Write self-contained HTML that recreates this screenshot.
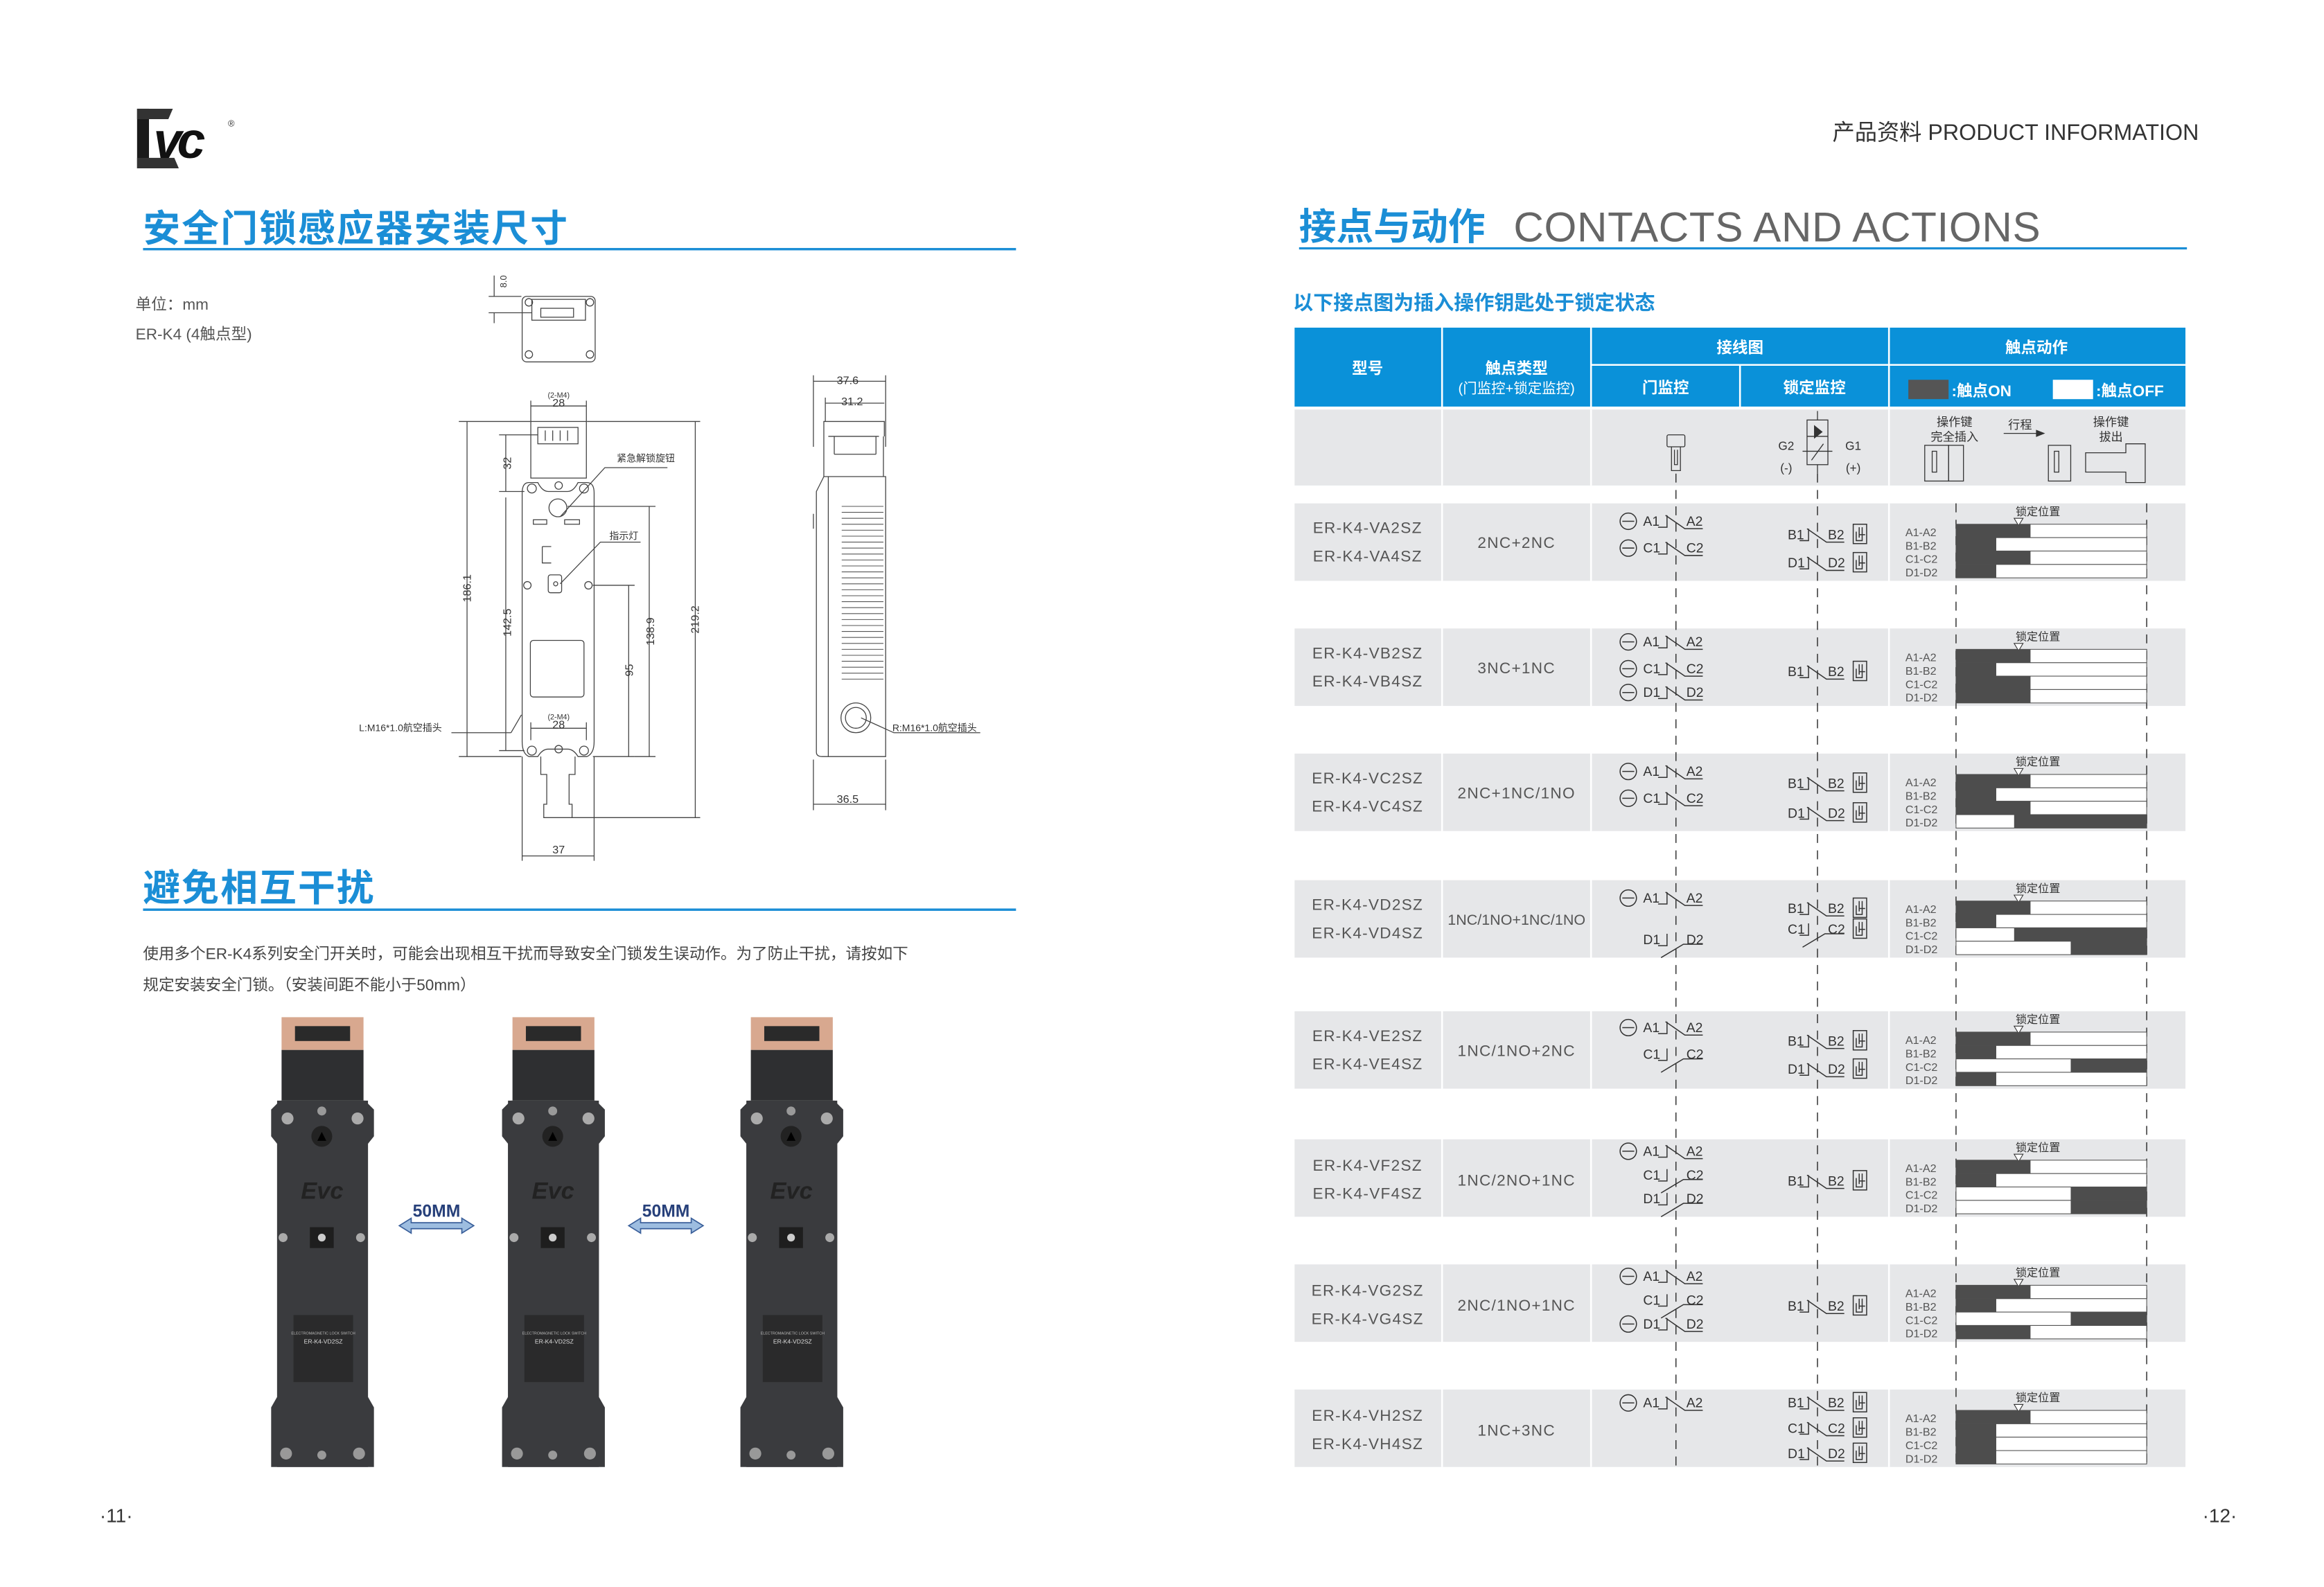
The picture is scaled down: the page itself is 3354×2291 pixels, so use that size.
<!DOCTYPE html>
<html><head><meta charset="utf-8"><style>
html,body{margin:0;padding:0;background:#fff;}
svg{display:block;}
text{font-family:"Liberation Sans","Noto Sans CJK SC",sans-serif;}
</style></head><body>
<svg width="3354" height="2291" viewBox="0 0 1560 1065.6" xmlns="http://www.w3.org/2000/svg">
<defs>
<g id="nc" fill="none" stroke="#333" stroke-width="0.7"><path d="M-12,4H-6V-4M-7,-4L6,5H18"/></g>
<g id="no" fill="none" stroke="#333" stroke-width="0.7"><path d="M-12,4H-6V-4M-10,12L5,3H18"/></g>
<g id="bx" fill="none" stroke="#333" stroke-width="0.7"><rect x="0" y="-7" width="9" height="13"/><path d="M2,-2V4H6V-5M4,-5V2M4,0H8"/></g>
<g id="cir" fill="none" stroke="#333" stroke-width="0.7"><circle r="5.5"/><path d="M-4,0H4"/></g>
<g id="dev">
 <rect x="7" y="0" width="55" height="22" fill="#d8a88f"/>
 <rect x="16" y="6" width="37" height="10" fill="#2a2a2a"/>
 <rect x="7" y="22" width="55" height="34" fill="#2e2f31"/>
 <path d="M4,56 H65 V302 H4 Z" fill="#37383b"/>
 <path d="M0,62 L6,56 H63 L69,62 V80 L65,85 V255 L69,262 V302 H0 V262 L4,255 V85 L0,80Z" fill="#3a3b3e"/>
 <circle cx="11" cy="68" r="4" fill="#aaa"/><circle cx="58" cy="68" r="4" fill="#aaa"/>
 <circle cx="34" cy="63" r="3" fill="#999"/>
 <circle cx="34" cy="80" r="7" fill="#222"/><path d="M31,83 L34,77 L37,83Z" fill="#000"/>
 <text x="20" y="122" font-size="16" font-weight="bold" fill="#222" font-style="italic">Evc</text>
 <rect x="26" y="141" width="16" height="14" fill="#1e1e1e"/><circle cx="34" cy="148" r="2.6" fill="#ccc"/>
 <circle cx="8" cy="148" r="3" fill="#aaa"/><circle cx="60" cy="148" r="3" fill="#aaa"/>
 <rect x="15" y="200" width="40" height="45" fill="#2a2a2b"/>
 <text x="35" y="213" font-size="2.5" fill="#bbb" text-anchor="middle">ELECTROMAGNETIC LOCK SWITCH</text>
 <text x="35" y="219" font-size="4" fill="#ddd" text-anchor="middle">ER-K4-VD2SZ</text>
 <circle cx="10" cy="293" r="4" fill="#999"/><circle cx="59" cy="293" r="4" fill="#999"/><circle cx="34" cy="294" r="3" fill="#999"/>
</g>
</defs>

<!-- logo -->
<g>
 <rect x="92" y="73" width="8" height="40" fill="#1a1a1a"/>
 <path d="M92,73 H116 L113,80 H92Z" fill="#333"/>
 <path d="M92,106 H117 L120,113 H92Z" fill="#333"/>
 <text x="103" y="106" font-size="34" font-weight="bold" font-style="italic" fill="#111" letter-spacing="-3">vc</text>
 <text x="153" y="85" font-size="6" fill="#333">®</text>
</g>
<text x="1476" y="94" font-size="15" fill="#333" text-anchor="end">产品资料 PRODUCT INFORMATION</text>

<!-- left titles -->
<text x="96" y="162" font-size="25" font-weight="bold" fill="#1b8ed6" letter-spacing="1">安全门锁感应器安装尺寸</text>
<rect x="96" y="166.5" width="586" height="1.6" fill="#1b8ed6"/>
<text x="91" y="208" font-size="10.5" fill="#555">单位：mm</text>
<text x="91" y="228" font-size="10.5" fill="#555">ER-K4 (4触点型)</text>

<!-- technical drawing -->
<g fill="none" stroke="#444" stroke-width="0.6">
 <rect x="350.5" y="199" width="49" height="44" rx="3"/>
 <rect x="357" y="201" width="36" height="14"/>
 <rect x="363" y="207" width="22" height="6"/>
 <circle cx="355" cy="203" r="2.5"/><circle cx="396" cy="203" r="2.5"/><circle cx="355" cy="238" r="2.5"/><circle cx="396" cy="238" r="2.5"/>
 <path d="M331.7,185V199M331.7,210V217M328,199H350M328,210H357"/>
 <rect x="356.3" y="283" width="37.3" height="38"/>
 <rect x="361" y="287" width="27" height="11"/>
 <path d="M366,289V296M371,289V296M376,289V296M381,289V296"/>
 <path d="M350.5,331 Q350.5,324 355,324 H361 Q364,330 368,330 H381 Q385,330 388,324 H394 Q398.8,324 398.8,331 V498 Q398.8,506 394,508 H388 Q385,503 381,503 H368 Q364,503 361,508 H355 Q350.5,506 350.5,498 Z"/>
 <circle cx="357" cy="328" r="3"/><circle cx="392" cy="328" r="3"/><circle cx="357" cy="504" r="3"/><circle cx="392" cy="504" r="3"/>
 <circle cx="375" cy="326" r="2.5"/><circle cx="375" cy="503" r="2.5"/>
 <circle cx="374.5" cy="341" r="6"/>
 <rect x="358" y="349" width="9" height="3"/><rect x="379" y="349" width="10" height="3"/>
 <path d="M364,367 H370 M364,367 V378 H370"/>
 <rect x="368" y="386" width="9" height="12" rx="1.5"/><circle cx="373" cy="392" r="1.4"/>
 <circle cx="354" cy="393" r="2.5"/><circle cx="395" cy="393" r="2.5"/>
 <rect x="356" y="430" width="36" height="38" rx="2"/>
 <path d="M363,508 V520 H367 V540 H365 V549 H384 V540 H382 V520 H386 V508"/>
 <path d="M313.5,283V508M308,283H356M308,508H350"/>
 <path d="M339.5,292V330M339.5,334V504M335,292H361M335,330H352M335,504H352"/>
 <path d="M422,393V508M398,393H426M398,508H426"/>
 <path d="M435.8,340V508M381,340H440M426,508H440"/>
 <path d="M466.7,283V549M394,283H470M384,549H470"/>
 <path d="M356.3,272.6H393.6M356.3,269V283M393.6,269V283"/>
 <path d="M356.3,489H393.6M356.3,485V497M393.6,485V497"/>
 <path d="M350.5,574.7H398.8M350.5,508V578M398.8,508V578"/>
 <path d="M376,347 L406,314 H448 M376,392 L403,364 H430 M343,492 L350,480 M303,492 H343 M578,482 L600,492 H658"/>
 <path d="M553,293 V283 H593.6 V293 M553,293 V320 M593,293 V320 M556,293 H590 M560,305 H588 M560,293 V305 M588,293 V305"/>
 <path d="M553,320 L548,330 V505 Q548,508 552,508 H594.5 V320 Z M556,320 V508"/>
 <path d="M546,345 V355"/>
 <circle cx="574.5" cy="482" r="10"/><circle cx="574.5" cy="482" r="7"/>
 <path d="M546,256H594.5M546,252V300M594.5,252V300M554,270.7H593.6M554,267V283M546,540H594.5M546,510V544M594.5,510V544"/>
</g>
<g stroke="#555" stroke-width="0.5">
 <path d="M565,340H593M565,344H593M565,348H593M565,352H593M565,356H593M565,360H593M565,364H593M565,368H593M565,372H593M565,376H593M565,380H593M565,384H593M565,388H593M565,392H593M565,396H593M565,400H593M565,404H593M565,408H593M565,412H593M565,416H593M565,420H593M565,424H593M565,428H593M565,432H593M565,436H593M565,440H593M565,444H593M565,448H593M565,452H593M565,456H593"/>
</g>
<g font-size="7.5" fill="#333">
 <text x="340" y="189" transform="rotate(-90 340 189)" text-anchor="middle" font-size="6">8.0</text>
 <text x="375" y="267" text-anchor="middle" font-size="5">(2-M4)</text>
 <text x="375" y="273" text-anchor="middle">28</text>
 <text x="375" y="483" text-anchor="middle" font-size="5">(2-M4)</text>
 <text x="375" y="489" text-anchor="middle">28</text>
 <text x="375" y="573" text-anchor="middle">37</text>
 <text x="316" y="395" transform="rotate(-90 316 395)" text-anchor="middle">186.1</text>
 <text x="343" y="418" transform="rotate(-90 343 418)" text-anchor="middle">142.5</text>
 <text x="343" y="311" transform="rotate(-90 343 311)" text-anchor="middle">32</text>
 <text x="425" y="450" transform="rotate(-90 425 450)" text-anchor="middle">95</text>
 <text x="439" y="424" transform="rotate(-90 439 424)" text-anchor="middle">138.9</text>
 <text x="469" y="416" transform="rotate(-90 469 416)" text-anchor="middle">219.2</text>
 <text x="569" y="258" text-anchor="middle">37.6</text>
 <text x="572" y="272" text-anchor="middle">31.2</text>
 <text x="569" y="539" text-anchor="middle">36.5</text>
 <text x="414" y="310" font-size="6.5">紧急解锁旋钮</text>
 <text x="409" y="362" font-size="6.5">指示灯</text>
 <text x="241" y="491" font-size="6.5">L:M16*1.0航空插头</text>
 <text x="599" y="491" font-size="6.5">R:M16*1.0航空插头</text>
</g>

<!-- section 2 -->
<text x="96" y="605" font-size="25" font-weight="bold" fill="#1b8ed6" letter-spacing="1">避免相互干扰</text>
<rect x="96" y="610" width="586" height="1.6" fill="#1b8ed6"/>
<text x="96" y="644" font-size="10.5" fill="#444">使用多个ER-K4系列安全门开关时，可能会出现相互干扰而导致安全门锁发生误动作。为了防止干扰，请按如下</text>
<text x="96" y="665" font-size="10.5" fill="#444">规定安装安全门锁。（安装间距不能小于50mm）</text>
<use href="#dev" x="182" y="683"/>
<use href="#dev" x="337" y="683"/>
<use href="#dev" x="497" y="683"/>
<g fill="#9dbde0" stroke="#3a5f9a" stroke-width="0.8">
 <path d="M268,823 L276,818 V821 H310 V818 L318,823 L310,828 V825 H276 V828Z"/>
 <path d="M422,823 L430,818 V821 H464 V818 L472,823 L464,828 V825 H430 V828Z"/>
</g>
<text x="293" y="817" font-size="11.5" font-weight="bold" fill="#27407a" text-anchor="middle">50MM</text>
<text x="447" y="817" font-size="11.5" font-weight="bold" fill="#27407a" text-anchor="middle">50MM</text>
<text x="78" y="1022" font-size="13" fill="#333" text-anchor="middle">·11·</text>

<!-- right page -->
<text x="872" y="161" font-size="25" font-weight="bold" fill="#1b8ed6">接点与动作</text>
<text x="1016" y="162" font-size="28" fill="#666" letter-spacing="0.3">CONTACTS AND ACTIONS</text>
<rect x="872" y="166" width="596" height="1.5" fill="#1b8ed6"/>
<text x="868" y="208" font-size="13.5" font-weight="bold" fill="#1b8ed6">以下接点图为插入操作钥匙处于锁定状态</text>

<rect x="869" y="220" width="598" height="53" fill="#0a91d9"/>
<g stroke="#fff" stroke-width="1.2">
 <path d="M968,220V273M1068,220V273M1268,220V273M1168,245V273M1068,245H1467"/>
</g>
<g fill="#fff" font-size="10.5" font-weight="bold" text-anchor="middle">
 <text x="918" y="251">型号</text>
 <text x="1018" y="251">触点类型</text>
 <text x="1018" y="264" font-weight="normal" font-size="9.5">(门监控+锁定监控)</text>
 <text x="1168" y="237">接线图</text>
 <text x="1367" y="237">触点动作</text>
 <text x="1118" y="264">门监控</text>
 <text x="1218" y="264">锁定监控</text>
</g>
<rect x="1281" y="255" width="27" height="13" fill="#555"/>
<rect x="1378" y="255" width="27" height="13" fill="#fff"/>
<text x="1310" y="266" font-size="10.5" font-weight="bold" fill="#fff">:触点ON</text>
<text x="1407" y="266" font-size="10.5" font-weight="bold" fill="#fff">:触点OFF</text>

<g fill="#e6e7e9">
 <rect x="869" y="275" width="598" height="51"/>
 <rect x="869" y="338" width="598" height="52"/>
 <rect x="869" y="422" width="598" height="52"/>
 <rect x="869" y="506" width="598" height="52"/>
 <rect x="869" y="591" width="598" height="52"/>
 <rect x="869" y="679" width="598" height="52"/>
 <rect x="869" y="765" width="598" height="52"/>
 <rect x="869" y="849" width="598" height="52"/>
 <rect x="869" y="933" width="598" height="52"/>
</g>
<g stroke="#fff" stroke-width="1.2">
 <path d="M968,275V326M1068,275V326M1268,275V326M968,338V985M1068,338V985M1268,338V985"/>
</g>
<g stroke="#333" stroke-width="0.7" stroke-dasharray="6,5">
 <path d="M1125,318V985M1220,318V985M1313,338V985M1441,338V985"/>
</g>

<g fill="none" stroke="#333" stroke-width="0.6">
 <rect x="1119" y="292" width="12" height="8" rx="1"/>
 <path d="M1122,300V316H1128V300M1124,302V312H1126V302"/>
 <rect x="1213" y="282" width="14" height="30"/>
 <path d="M1213,293H1227M1210,303H1230M1220,312V318M1220,276V282"/>
 <path d="M1218,286L1223,290L1218,294Z" fill="#333"/>
 <path d="M1216,309L1224,298"/>
 <rect x="1292" y="299" width="16" height="24"/><rect x="1308" y="299" width="10" height="24"/>
 <rect x="1297" y="303" width="3" height="14"/>
 <rect x="1375" y="299" width="15" height="24"/>
 <rect x="1379" y="303" width="3" height="14"/>
 <path d="M1400,304H1427V298H1440V324H1427V317H1400Z"/>
 <path d="M1345,291H1372"/><path d="M1372,291L1367,289V293Z" fill="#333"/>
</g>
<g font-size="8" fill="#333" text-anchor="middle">
 <text x="1199" y="302">G2</text><text x="1244" y="302">G1</text>
 <text x="1199" y="317">(-)</text><text x="1244" y="317">(+)</text>
 <text x="1312" y="286">操作键</text><text x="1312" y="296">完全插入</text>
 <text x="1356" y="288">行程</text>
 <text x="1417" y="286">操作键</text><text x="1417" y="296">拔出</text>
</g>

<g font-size="10.5" fill="#555" letter-spacing="0.6" text-anchor="middle">
 <text x="918" y="358">ER-K4-VA2SZ</text><text x="918" y="377">ER-K4-VA4SZ</text>
 <text x="918" y="442">ER-K4-VB2SZ</text><text x="918" y="461">ER-K4-VB4SZ</text>
 <text x="918" y="526">ER-K4-VC2SZ</text><text x="918" y="545">ER-K4-VC4SZ</text>
 <text x="918" y="611">ER-K4-VD2SZ</text><text x="918" y="630">ER-K4-VD4SZ</text>
 <text x="918" y="699">ER-K4-VE2SZ</text><text x="918" y="718">ER-K4-VE4SZ</text>
 <text x="918" y="786">ER-K4-VF2SZ</text><text x="918" y="805">ER-K4-VF4SZ</text>
 <text x="918" y="870">ER-K4-VG2SZ</text><text x="918" y="889">ER-K4-VG4SZ</text>
 <text x="918" y="954">ER-K4-VH2SZ</text><text x="918" y="973">ER-K4-VH4SZ</text>
 <text x="1018" y="368">2NC+2NC</text>
 <text x="1018" y="452">3NC+1NC</text>
 <text x="1018" y="536">2NC+1NC/1NO</text>
 <text x="1018" y="621" letter-spacing="0" font-size="10">1NC/1NO+1NC/1NO</text>
 <text x="1018" y="709">1NC/1NO+2NC</text>
 <text x="1018" y="796">1NC/2NO+1NC</text>
 <text x="1018" y="880">2NC/1NO+1NC</text>
 <text x="1018" y="964">1NC+3NC</text>
</g>

<g>
 <use href="#nc" x="1125" y="350"/><use href="#cir" x="1093" y="350"/>
 <use href="#nc" x="1125" y="368"/><use href="#cir" x="1093" y="368"/>
 <use href="#nc" x="1125" y="431"/><use href="#cir" x="1093" y="431"/>
 <use href="#nc" x="1125" y="449"/><use href="#cir" x="1093" y="449"/>
 <use href="#nc" x="1125" y="465"/><use href="#cir" x="1093" y="465"/>
 <use href="#nc" x="1125" y="518"/><use href="#cir" x="1093" y="518"/>
 <use href="#nc" x="1125" y="536"/><use href="#cir" x="1093" y="536"/>
 <use href="#nc" x="1125" y="603"/><use href="#cir" x="1093" y="603"/>
 <use href="#no" x="1125" y="631"/>
 <use href="#nc" x="1125" y="690"/><use href="#cir" x="1093" y="690"/>
 <use href="#no" x="1125" y="708"/>
 <use href="#nc" x="1125" y="773"/><use href="#cir" x="1093" y="773"/>
 <use href="#no" x="1125" y="789"/><use href="#no" x="1125" y="805"/>
 <use href="#nc" x="1125" y="857"/><use href="#cir" x="1093" y="857"/>
 <use href="#no" x="1125" y="873"/>
 <use href="#nc" x="1125" y="889"/><use href="#cir" x="1093" y="889"/>
 <use href="#nc" x="1125" y="942"/><use href="#cir" x="1093" y="942"/>
</g>
<g font-size="9" fill="#333">
 <text x="1103" y="353">A1</text><text x="1132" y="353">A2</text>
 <text x="1103" y="371">C1</text><text x="1132" y="371">C2</text>
 <text x="1103" y="434">A1</text><text x="1132" y="434">A2</text>
 <text x="1103" y="452">C1</text><text x="1132" y="452">C2</text>
 <text x="1103" y="468">D1</text><text x="1132" y="468">D2</text>
 <text x="1103" y="521">A1</text><text x="1132" y="521">A2</text>
 <text x="1103" y="539">C1</text><text x="1132" y="539">C2</text>
 <text x="1103" y="606">A1</text><text x="1132" y="606">A2</text>
 <text x="1103" y="634">D1</text><text x="1132" y="634">D2</text>
 <text x="1103" y="693">A1</text><text x="1132" y="693">A2</text>
 <text x="1103" y="711">C1</text><text x="1132" y="711">C2</text>
 <text x="1103" y="776">A1</text><text x="1132" y="776">A2</text>
 <text x="1103" y="792">C1</text><text x="1132" y="792">C2</text>
 <text x="1103" y="808">D1</text><text x="1132" y="808">D2</text>
 <text x="1103" y="860">A1</text><text x="1132" y="860">A2</text>
 <text x="1103" y="876">C1</text><text x="1132" y="876">C2</text>
 <text x="1103" y="892">D1</text><text x="1132" y="892">D2</text>
 <text x="1103" y="945">A1</text><text x="1132" y="945">A2</text>
</g>
<g>
 <use href="#nc" x="1220" y="359"/><use href="#bx" x="1244" y="359"/>
 <use href="#nc" x="1220" y="378"/><use href="#bx" x="1244" y="378"/>
 <use href="#nc" x="1220" y="451"/><use href="#bx" x="1244" y="451"/>
 <use href="#nc" x="1220" y="526"/><use href="#bx" x="1244" y="526"/>
 <use href="#nc" x="1220" y="546"/><use href="#bx" x="1244" y="546"/>
 <use href="#nc" x="1220" y="610"/><use href="#bx" x="1244" y="610"/>
 <use href="#no" x="1220" y="624"/><use href="#bx" x="1244" y="624"/>
 <use href="#nc" x="1220" y="699"/><use href="#bx" x="1244" y="699"/>
 <use href="#nc" x="1220" y="718"/><use href="#bx" x="1244" y="718"/>
 <use href="#nc" x="1220" y="793"/><use href="#bx" x="1244" y="793"/>
 <use href="#nc" x="1220" y="877"/><use href="#bx" x="1244" y="877"/>
 <use href="#nc" x="1220" y="942"/><use href="#bx" x="1244" y="942"/>
 <use href="#nc" x="1220" y="959"/><use href="#bx" x="1244" y="959"/>
 <use href="#nc" x="1220" y="976"/><use href="#bx" x="1244" y="976"/>
</g>
<g font-size="9" fill="#333">
 <text x="1200" y="362">B1</text><text x="1227" y="362">B2</text>
 <text x="1200" y="381">D1</text><text x="1227" y="381">D2</text>
 <text x="1200" y="454">B1</text><text x="1227" y="454">B2</text>
 <text x="1200" y="529">B1</text><text x="1227" y="529">B2</text>
 <text x="1200" y="549">D1</text><text x="1227" y="549">D2</text>
 <text x="1200" y="613">B1</text><text x="1227" y="613">B2</text>
 <text x="1200" y="627">C1</text><text x="1227" y="627">C2</text>
 <text x="1200" y="702">B1</text><text x="1227" y="702">B2</text>
 <text x="1200" y="721">D1</text><text x="1227" y="721">D2</text>
 <text x="1200" y="796">B1</text><text x="1227" y="796">B2</text>
 <text x="1200" y="880">B1</text><text x="1227" y="880">B2</text>
 <text x="1200" y="945">B1</text><text x="1227" y="945">B2</text>
 <text x="1200" y="962">C1</text><text x="1227" y="962">C2</text>
 <text x="1200" y="979">D1</text><text x="1227" y="979">D2</text>
</g>

<g id="tb">
 <g fill="#fff" stroke="#555" stroke-width="0.5">
  <rect x="1313" y="352" width="128" height="9"/><rect x="1313" y="361" width="128" height="9"/>
  <rect x="1313" y="370" width="128" height="9"/><rect x="1313" y="379" width="128" height="9"/>
 </g>
 <text x="1368" y="346" font-size="7.5" fill="#333" text-anchor="middle">锁定位置</text>
 <path d="M1352,348H1358L1355,353Z" fill="#fff" stroke="#333" stroke-width="0.5"/>
 <g font-size="7.5" fill="#555">
  <text x="1279" y="360">A1-A2</text><text x="1279" y="369">B1-B2</text><text x="1279" y="378">C1-C2</text><text x="1279" y="387">D1-D2</text>
 </g>
</g>
<use href="#tb" y="84"/><use href="#tb" y="168"/><use href="#tb" y="253"/><use href="#tb" y="341"/><use href="#tb" y="427"/><use href="#tb" y="511"/><use href="#tb" y="595"/>
<g fill="#4d4d4d">
 <rect x="1313" y="352" width="50" height="9"/><rect x="1313" y="361" width="27" height="9"/><rect x="1313" y="370" width="50" height="9"/><rect x="1313" y="379" width="27" height="9"/>
 <rect x="1313" y="436" width="50" height="9"/><rect x="1313" y="445" width="27" height="9"/><rect x="1313" y="454" width="50" height="9"/><rect x="1313" y="463" width="50" height="9"/>
 <rect x="1313" y="520" width="50" height="9"/><rect x="1313" y="529" width="27" height="9"/><rect x="1313" y="538" width="50" height="9"/><rect x="1352" y="547" width="89" height="9"/>
 <rect x="1313" y="605" width="50" height="9"/><rect x="1313" y="614" width="27" height="9"/><rect x="1352" y="623" width="89" height="9"/><rect x="1390" y="632" width="51" height="9"/>
 <rect x="1313" y="693" width="50" height="9"/><rect x="1313" y="702" width="27" height="9"/><rect x="1390" y="711" width="51" height="9"/><rect x="1313" y="720" width="27" height="9"/>
 <rect x="1313" y="779" width="50" height="9"/><rect x="1313" y="788" width="27" height="9"/><rect x="1390" y="797" width="51" height="9"/><rect x="1390" y="806" width="51" height="9"/>
 <rect x="1313" y="863" width="50" height="9"/><rect x="1313" y="872" width="27" height="9"/><rect x="1390" y="881" width="51" height="9"/><rect x="1313" y="890" width="50" height="9"/>
 <rect x="1313" y="947" width="50" height="9"/><rect x="1313" y="956" width="27" height="9"/><rect x="1313" y="965" width="27" height="9"/><rect x="1313" y="974" width="27" height="9"/>
</g>

<text x="1490" y="1022" font-size="13" fill="#333" text-anchor="middle">·12·</text>
</svg>
</body></html>
